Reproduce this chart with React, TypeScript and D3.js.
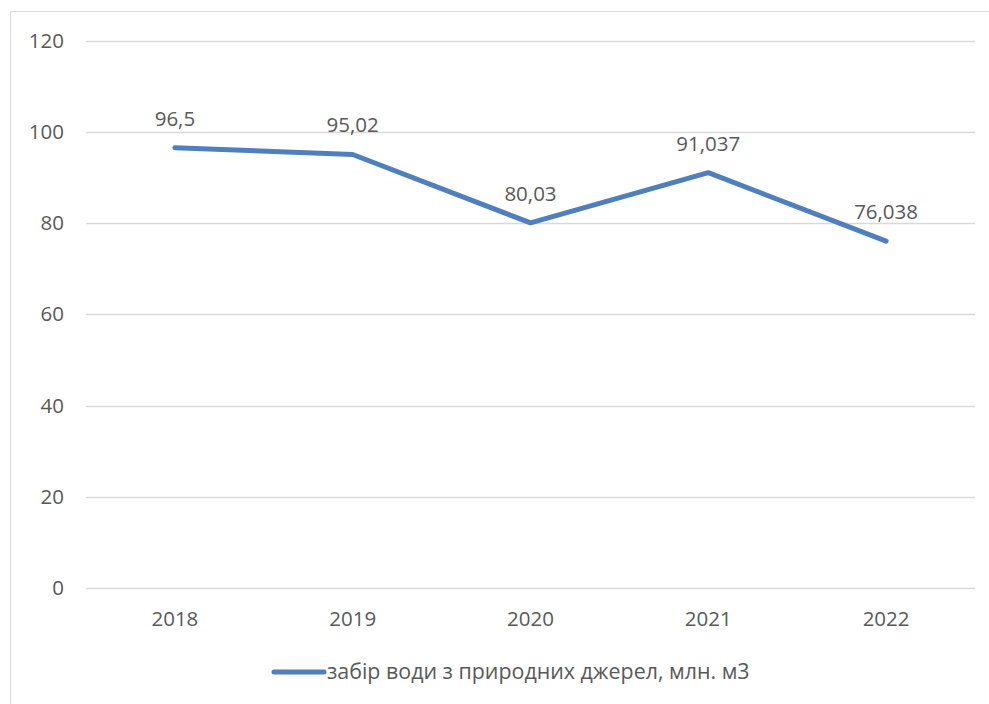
import { useRef, useEffect } from "react";
import * as d3 from "d3";

const years = ["2018", "2019", "2020", "2021", "2022"];
const values = [96.5, 95.02, 80.03, 91.037, 76.038];
const valueLabels = ["96,5", "95,02", "80,03", "91,037", "76,038"];
const yTicks = [0, 20, 40, 60, 80, 100, 120];
const seriesName = "забір води з природних джерел, млн. м3";

const W = 989;
const H = 704;
const FONT = "'Open Sans', 'Noto Sans', sans-serif";
const FS = 20.5;
const TEXT = "#595959";
const LINE = "#4f7fbd";

export default function App() {
  const svgRef = useRef<SVGSVGElement>(null);

  useEffect(() => {
    const svg = d3.select(svgRef.current);
    svg.selectAll("*").remove();

    const x = d3.scaleBand<string>().domain(years).range([86, 975]);
    const y = d3.scaleLinear().domain([0, 120]).range([588, 40.5]);

    svg
      .append("rect")
      .attr("x", 10.5)
      .attr("y", 11.5)
      .attr("width", W + 20)
      .attr("height", H + 20)
      .attr("fill", "#fff")
      .attr("stroke", "#d9d9d9");

    svg
      .append("g")
      .selectAll("line")
      .data(yTicks)
      .join("line")
      .attr("x1", 86)
      .attr("x2", 975)
      .attr("y1", (d) => Math.round(y(d)) + 0.5)
      .attr("y2", (d) => Math.round(y(d)) + 0.5)
      .attr("stroke", "#d9d9d9")
      .attr("stroke-width", 1.3);

    svg
      .append("g")
      .selectAll("text")
      .data(yTicks)
      .join("text")
      .attr("x", 64)
      .attr("y", (d) => y(d))
      .attr("dy", "0.35em")
      .attr("text-anchor", "end")
      .attr("font-family", FONT)
      .attr("font-size", FS)
      .attr("fill", TEXT)
      .text((d) => d);

    svg
      .append("g")
      .selectAll("text")
      .data(years)
      .join("text")
      .attr("x", (d) => x(d)! + x.bandwidth() / 2)
      .attr("y", 626)
      .attr("text-anchor", "middle")
      .attr("font-family", FONT)
      .attr("font-size", FS)
      .attr("fill", TEXT)
      .text((d) => d);

    const line = d3
      .line<number>()
      .x((_, i) => x(years[i])! + x.bandwidth() / 2)
      .y((d) => y(d));

    svg
      .append("path")
      .datum(values)
      .attr("d", line)
      .attr("fill", "none")
      .attr("stroke", LINE)
      .attr("stroke-width", 5)
      .attr("stroke-linecap", "round")
      .attr("stroke-linejoin", "round");

    svg
      .append("g")
      .selectAll("text")
      .data(values)
      .join("text")
      .attr("x", (_, i) => x(years[i])! + x.bandwidth() / 2)
      .attr("y", (d) => y(d) - 22)
      .attr("text-anchor", "middle")
      .attr("font-family", FONT)
      .attr("font-size", FS)
      .attr("fill", TEXT)
      .text((_, i) => valueLabels[i]);

    const legend = svg.append("g");
    legend
      .append("line")
      .attr("x1", 274)
      .attr("x2", 324)
      .attr("y1", 672)
      .attr("y2", 672)
      .attr("stroke", LINE)
      .attr("stroke-width", 5)
      .attr("stroke-linecap", "round");
    legend
      .append("text")
      .attr("x", 327)
      .attr("y", 679)
      .attr("font-family", FONT)
      .attr("font-size", 21.4)
      .attr("fill", TEXT)
      .text(seriesName);
  }, []);

  return (
    <svg
      ref={svgRef}
      width={W}
      height={H}
      style={{ position: "absolute", left: 0, top: 0, display: "block" }}
    />
  );
}
